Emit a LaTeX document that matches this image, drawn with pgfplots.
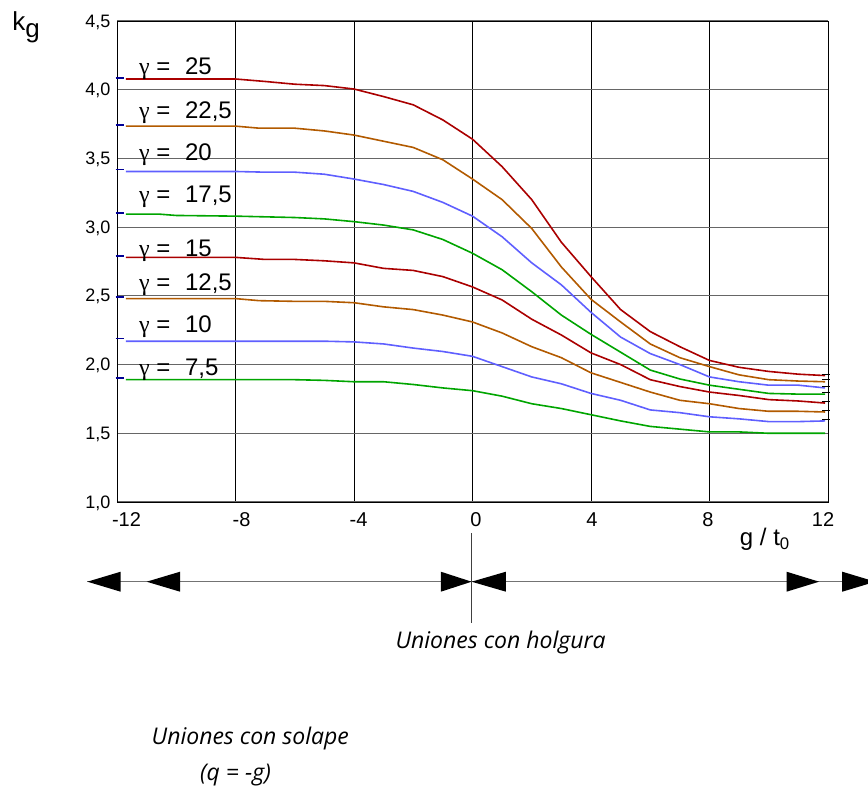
\documentclass[border=0pt]{standalone}
\usepackage{pgfplots}
\pgfplotsset{compat=1.18}
\usepackage{fontspec}
\setmainfont{Liberation Sans}
\newfontfamily\opensans{Open Sans}
\newfontfamily\gserif{Liberation Serif}

\definecolor{cred}{RGB}{170,0,0}
\definecolor{corange}{RGB}{178,90,0}
\definecolor{cblue}{RGB}{95,95,255}
\definecolor{cgreen}{RGB}{0,165,0}
\definecolor{tickblue}{RGB}{0,0,150}

\newcommand{\sh}[2]{\makebox[0pt]{\hspace*{#1}#2}}
\newcommand{\gam}{{\gserif γ}}

\begin{document}
\begin{tikzpicture}
\useasboundingbox (0,0) rectangle (868bp,789bp);
\begin{axis}[
  at={(117bp,287bp)}, anchor=south west,
  scale only axis, width=711bp, height=481bp,
  xmin=-12, xmax=12, ymin=1, ymax=4.5,
  xtick={-12,-8,-4,0,4,8,12},
  xticklabels={\sh{19bp}{-12},\sh{12bp}{-8},\sh{9bp}{-4},\sh{7bp}{0},\sh{2bp}{4},\sh{-3bp}{8},\sh{-10bp}{12}},
  ytick={1,1.5,2,2.5,3,3.5,4,4.5},
  /pgf/number format/assume math mode=true,
  yticklabel style={font=\fontsize{18bp}{21bp}\selectfont, xshift=-3bp, yshift=-1bp, /pgf/number format/.cd, use comma, fixed, fixed zerofill, precision=1},
  xticklabel style={font=\fontsize{20bp}{23bp}\selectfont, yshift=-7bp},
  major tick length=0pt,
  xmajorgrids, ymajorgrids,
  x grid style={black, line width=0.8bp},
  y grid style={black!60, line width=1.2bp},
  axis line style={black, line width=0.8bp},
  clip=false,
  every axis plot/.append style={line width=1.6bp, no markers},
]
% gamma = 25
\addplot[cred] coordinates {(-11.7,4.078) (-8,4.078) (-7,4.06) (-6,4.04) (-5,4.03) (-4,4.005) (-3,3.95) (-2,3.89) (-1,3.78) (0,3.64) (1,3.44) (2,3.20) (3,2.89) (4,2.64) (5,2.40) (6,2.24) (7,2.13) (8,2.03) (9,1.98) (10,1.95) (11,1.93) (11.9,1.92)};
% gamma = 22.5
\addplot[corange] coordinates {(-11.7,3.735) (-8,3.735) (-7.2,3.72) (-6,3.72) (-5,3.70) (-4,3.67) (-3,3.625) (-2,3.58) (-1,3.49) (0,3.35) (1,3.20) (2,2.99) (3,2.71) (4,2.475) (5,2.31) (6,2.15) (7,2.05) (8,1.985) (9,1.925) (10,1.89) (11,1.88) (11.9,1.875)};
% gamma = 20
\addplot[cblue] coordinates {(-11.7,3.405) (-8,3.405) (-7,3.40) (-6,3.40) (-5,3.385) (-4,3.35) (-3,3.31) (-2,3.26) (-1,3.18) (0,3.08) (1,2.93) (2,2.74) (3,2.58) (4,2.38) (5,2.20) (6,2.08) (7,2.00) (8,1.91) (9,1.875) (10,1.85) (11,1.85) (11.9,1.83)};
% gamma = 17.5
\addplot[cgreen] coordinates {(-11.7,3.095) (-10.6,3.095) (-10,3.085) (-8,3.08) (-7,3.075) (-6,3.07) (-5,3.06) (-4,3.04) (-3,3.015) (-2,2.98) (-1,2.91) (0,2.81) (1,2.69) (2,2.53) (3,2.36) (4,2.22) (5,2.09) (6,1.96) (7,1.895) (8,1.85) (9,1.82) (10,1.79) (11,1.785) (11.9,1.785)};
% gamma = 15
\addplot[cred] coordinates {(-11.7,2.78) (-8,2.78) (-7,2.765) (-6,2.765) (-5,2.755) (-4,2.74) (-3,2.70) (-2,2.685) (-1,2.64) (0,2.565) (1,2.47) (2,2.33) (3,2.215) (4,2.085) (5,2.00) (6,1.89) (7,1.84) (8,1.80) (9,1.775) (10,1.745) (11,1.735) (11.9,1.72)};
% gamma = 12.5
\addplot[corange] coordinates {(-11.7,2.48) (-8,2.48) (-7.2,2.465) (-6,2.46) (-5,2.46) (-4,2.45) (-3,2.42) (-2,2.40) (-1,2.36) (0,2.31) (1,2.23) (2,2.13) (3,2.05) (4,1.94) (5,1.87) (6,1.80) (7,1.74) (8,1.715) (9,1.68) (10,1.66) (11,1.66) (11.9,1.655)};
% gamma = 10
\addplot[cblue] coordinates {(-11.7,2.17) (-8,2.17) (-6,2.17) (-5,2.17) (-4,2.165) (-3,2.15) (-2,2.12) (-1,2.095) (0,2.06) (1,1.985) (2,1.91) (3,1.86) (4,1.79) (5,1.74) (6,1.67) (7,1.65) (8,1.62) (9,1.605) (10,1.585) (11,1.585) (11.9,1.59)};
% gamma = 7.5
\addplot[cgreen] coordinates {(-11.7,1.89) (-8,1.89) (-6,1.89) (-5,1.885) (-4,1.875) (-3,1.875) (-2,1.855) (-1,1.83) (0,1.81) (1,1.77) (2,1.715) (3,1.68) (4,1.635) (5,1.59) (6,1.55) (7,1.53) (8,1.51) (9,1.51) (10,1.50) (11,1.50) (11.9,1.50)};

% small end ticks, left (dark blue)
\addplot[tickblue, line width=1.8bp] coordinates {(-12.05,4.083) (-11.75,4.083)};
\addplot[tickblue, line width=1.8bp] coordinates {(-12.05,3.746) (-11.75,3.746)};
\addplot[tickblue, line width=1.8bp] coordinates {(-12.05,3.42) (-11.75,3.42)};
\addplot[tickblue, line width=1.8bp] coordinates {(-12.05,3.104) (-11.75,3.104)};
\addplot[tickblue, line width=1.8bp] coordinates {(-12.05,2.788) (-11.75,2.788)};
\addplot[tickblue, line width=1.8bp] coordinates {(-12.05,2.489) (-11.75,2.489)};
\addplot[tickblue, line width=1.8bp] coordinates {(-12.05,2.19) (-11.75,2.19)};
\addplot[tickblue, line width=1.8bp] coordinates {(-12.05,1.90) (-11.75,1.90)};
% small end ticks, right (black)
\addplot[black, line width=1.1bp] coordinates {(11.8,1.931) (12.08,1.931)};
\addplot[black, line width=1.1bp] coordinates {(11.8,1.889) (12.08,1.889)};
\addplot[black, line width=1.1bp] coordinates {(11.8,1.838) (12.08,1.838)};
\addplot[black, line width=1.1bp] coordinates {(11.8,1.80) (12.08,1.80)};
\addplot[black, line width=1.1bp] coordinates {(11.8,1.734) (12.08,1.734)};
\addplot[black, line width=1.1bp] coordinates {(11.8,1.665) (12.08,1.665)};
\addplot[black, line width=1.1bp] coordinates {(11.8,1.603) (12.08,1.603)};

% curve labels
\begin{scope}[every node/.style={anchor=base west, inner sep=0pt, font=\fontsize{24bp}{28bp}\selectfont}]
\node at (axis cs:-11.26,4.114) {\gam\ =\hspace{8bp} 25};
\node at (axis cs:-11.26,3.787) {\gam\ =\hspace{8bp} 22,5};
\node at (axis cs:-11.26,3.483) {\gam\ =\hspace{8bp} 20};
\node at (axis cs:-11.26,3.176) {\gam\ =\hspace{8bp} 17,5};
\node at (axis cs:-11.26,2.785) {\gam\ =\hspace{8bp} 15};
\node at (axis cs:-11.26,2.538) {\gam\ =\hspace{8bp} 12,5};
\node at (axis cs:-11.26,2.230) {\gam\ =\hspace{8bp} 10};
\node at (axis cs:-11.26,1.924) {\gam\ =\hspace{8bp} 7,5};
\end{scope}

% axis titles
\node[anchor=base west, inner sep=0pt, font=\fontsize{26bp}{30bp}\selectfont] at (axis cs:-15.54,4.434) {k\raisebox{-7bp}{g}};
\node[anchor=base, inner sep=0pt, font=\fontsize{24bp}{28bp}\selectfont] at (axis cs:9.87,0.68) {g / t\textsubscript{0}};

% bottom annotation: arrows
\draw[black!55, line width=1.4bp] (axis cs:-13,0.42) -- (axis cs:13.6,0.42);
\fill[black] (axis cs:-13.0,0.42) -- (axis cs:-11.875,0.4928) -- (axis cs:-11.875,0.3472) -- cycle;
\fill[black] (axis cs:-11.0,0.42) -- (axis cs:-9.87,0.4928) -- (axis cs:-9.87,0.3472) -- cycle;
\fill[black] (axis cs:-0.03,0.42) -- (axis cs:-1.07,0.4928) -- (axis cs:-1.07,0.3472) -- cycle;
\fill[black] (axis cs:-0.03,0.42) -- (axis cs:1.13,0.4928) -- (axis cs:1.13,0.3472) -- cycle;
\fill[black] (axis cs:11.7,0.42) -- (axis cs:10.6,0.4928) -- (axis cs:10.6,0.3472) -- cycle;
\fill[black] (axis cs:13.6,0.42) -- (axis cs:12.48,0.4928) -- (axis cs:12.48,0.3472) -- cycle;
\draw[black!75, line width=0.8bp] (axis cs:-0.03,0.774) -- (axis cs:-0.03,0.12);

\begin{scope}[every node/.style={anchor=base, inner sep=0pt, font=\opensans\itshape\fontsize{23bp}{26bp}\selectfont}]
\node at (axis cs:0.95,-0.0696) {Uniones con holgura};
\node at (axis cs:-7.5,-0.768) {Uniones con solape};
\node at (axis cs:-8.0,-1.03) {(q = -g)};
\end{scope}
\end{axis}
\end{tikzpicture}
\end{document}
